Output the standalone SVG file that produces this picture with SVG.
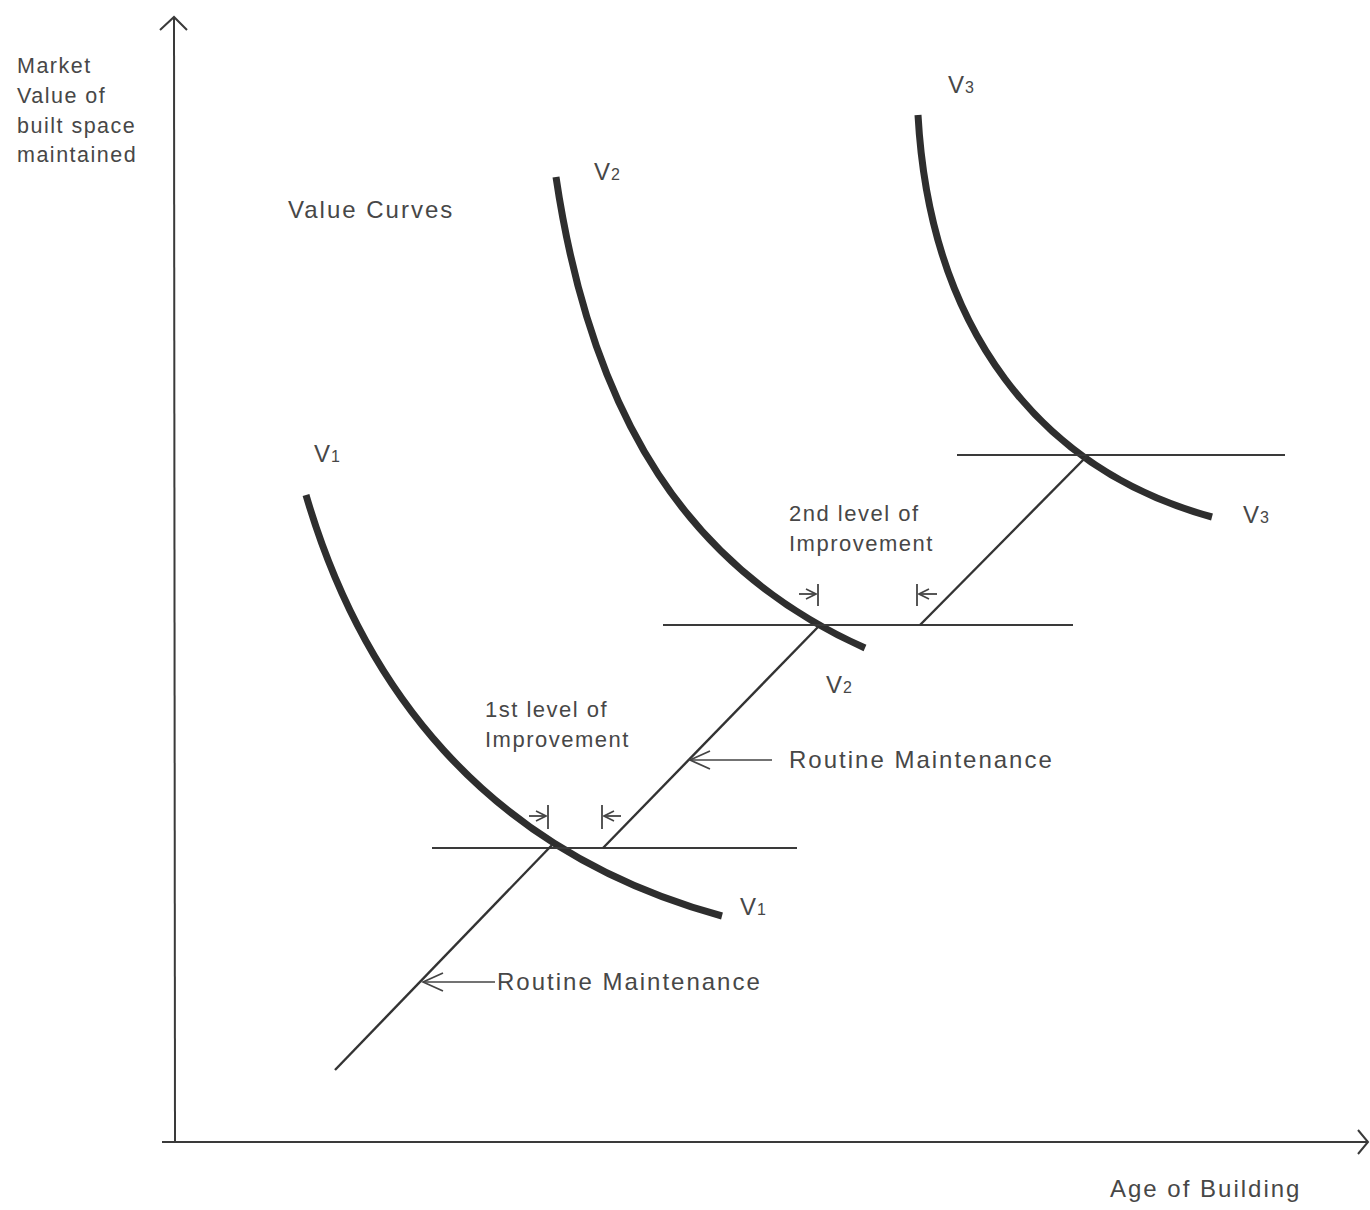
<svg xmlns="http://www.w3.org/2000/svg" width="1370" height="1210" viewBox="0 0 1370 1210">
  <style>
    .bg { fill: #ffffff; }
    .axis { stroke: #3a3a3a; stroke-width: 2; fill: none; }
    .curve { stroke: #2e2e2e; stroke-width: 7; fill: none; stroke-linecap: butt; }
    .level { stroke: #3a3a3a; stroke-width: 1.8; fill: none; }
    .maint { stroke: #333333; stroke-width: 2.4; fill: none; }
    .lead { stroke: #444444; stroke-width: 1.6; fill: none; }
    .tick { stroke: #444444; stroke-width: 1.8; fill: none; }
    text { font-family: "Liberation Sans", Arial, sans-serif; fill: #474747; font-size: 22px; letter-spacing: 1.5px; }
    .axislbl { font-size: 21.5px; letter-spacing: 1.5px; }
    .big { font-size: 24px; letter-spacing: 2px; }
    .v { font-size: 24px; letter-spacing: 1px; }
    .sub { font-size: 16px; }
  </style>
  <defs>
    <marker id="openHead" viewBox="0 0 12 12" refX="11" refY="6" markerWidth="12" markerHeight="12" markerUnits="userSpaceOnUse" orient="auto">
      <path d="M1,1 L11,6 L1,11" fill="none" stroke="#444444" stroke-width="1.6"/>
    </marker>
    <marker id="leadHead" viewBox="0 0 24 24" refX="22" refY="12" markerWidth="24" markerHeight="24" markerUnits="userSpaceOnUse" orient="auto">
      <path d="M2,3 L22,12 L2,21" fill="none" stroke="#444444" stroke-width="1.8"/>
    </marker>
  </defs>

  <rect class="bg" x="0" y="0" width="1370" height="1210"/>

  <!-- axes -->
  <g id="axes">
    <path class="axis" d="M175,1143 L174,18"/>
    <path class="axis" d="M160,30 L174,17 L187,30"/>
    <path class="axis" d="M162,1142 L1367,1142"/>
    <path class="axis" d="M1358,1130 L1368,1142 L1358,1154"/>
    <text class="axislbl" x="17" y="73">Market</text>
    <text class="axislbl" x="17" y="103">Value of</text>
    <text class="axislbl" x="17" y="133">built space</text>
    <text class="axislbl" x="17" y="162">maintained</text>
    <text class="big" x="1110" y="1197">Age of Building</text>
  </g>

  <g id="title">
    <text class="big" x="288" y="218">Value Curves</text>
  </g>

  <!-- value curves -->
  <g id="curve-v1">
    <path class="curve" d="M306,495 C360,680 480,850 722,916"/>
    <text class="v" x="314" y="462">V<tspan class="sub">1</tspan></text>
    <text class="v" x="740" y="915">V<tspan class="sub">1</tspan></text>
  </g>
  <g id="curve-v2">
    <path class="curve" d="M556,177 C592,420 690,570 865,648"/>
    <text class="v" x="594" y="180">V<tspan class="sub">2</tspan></text>
    <text class="v" x="826" y="693">V<tspan class="sub">2</tspan></text>
  </g>
  <g id="curve-v3">
    <path class="curve" d="M918,115 C930,330 1040,470 1212,517"/>
    <text class="v" x="948" y="93">V<tspan class="sub">3</tspan></text>
    <text class="v" x="1243" y="523">V<tspan class="sub">3</tspan></text>
  </g>

  <!-- levels of improvement and routine maintenance -->
  <g id="connectors">
    <path class="level" d="M432,848 L797,848"/>
    <path class="level" d="M663,625 L1073,625"/>
    <path class="level" d="M957,455 L1285,455"/>

    <path class="maint" d="M335,1070 L552,845"/>
    <path class="maint" d="M603,848 L818,627"/>
    <path class="maint" d="M920,625 L1088,455"/>

    <path class="lead" d="M495,982 L423,982" marker-end="url(#leadHead)"/>
    <path class="lead" d="M772,760 L690,760" marker-end="url(#leadHead)"/>

    <!-- widths of the first improvement -->
    <path class="tick" d="M529,816 L546,816" marker-end="url(#openHead)"/>
    <path class="tick" d="M548,805 L548,829"/>
    <path class="tick" d="M621,816 L604,816" marker-end="url(#openHead)"/>
    <path class="tick" d="M602,805 L602,829"/>

    <!-- widths of the second improvement -->
    <path class="tick" d="M799,594 L816,594" marker-end="url(#openHead)"/>
    <path class="tick" d="M818,584 L818,606"/>
    <path class="tick" d="M937,594 L919,594" marker-end="url(#openHead)"/>
    <path class="tick" d="M917,584 L917,606"/>
  </g>

  <g id="labels">
    <text x="485" y="717">1st level of</text>
    <text x="485" y="747">Improvement</text>
    <text x="789" y="521">2nd level of</text>
    <text x="789" y="551">Improvement</text>
    <text class="big" x="497" y="990">Routine Maintenance</text>
    <text class="big" x="789" y="768">Routine Maintenance</text>
  </g>
</svg>
